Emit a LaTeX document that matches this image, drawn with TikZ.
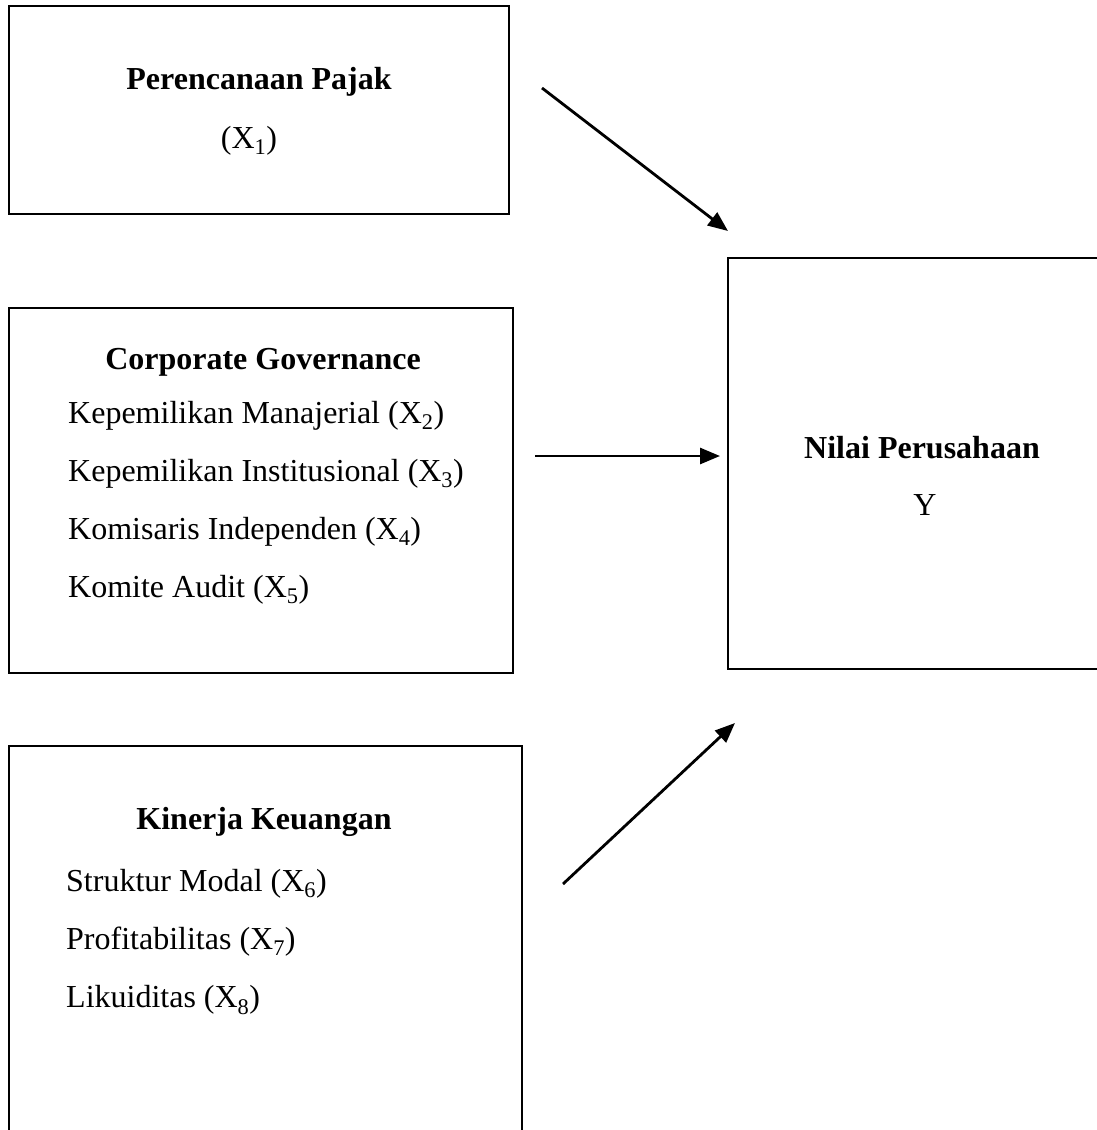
\documentclass[tikz,border=0pt]{standalone}
\usepackage{fontspec}
\setmainfont{Liberation Serif}
\usetikzlibrary{arrows.meta}
\tikzset{
  kotak/.style={draw,line width=2.8pt,minimum width=#1,inner sep=0pt},
  judul/.style={font=\fontsize{32}{38}\selectfont\bfseries},
  isi/.style={font=\fontsize{32}{38}\selectfont,anchor=west,inner sep=0pt},
  panah/.style={line width=2.8pt,-{Triangle[length=20pt,width=16pt]}}
}
\newcommand{\Xs}[1]{X\textsubscript{#1}}
\begin{document}
\begin{tikzpicture}[x=1pt,y=-1pt]
\useasboundingbox (0,0) rectangle (1097,1130);
\clip (0,0) rectangle (1097,1130);
% kotak variabel
\node[kotak=500pt,minimum height=208pt] (pajak) at (259,110) {};
\node[kotak=504pt,minimum height=365pt] (cg) at (261,490.5) {};
\node[kotak=513pt,minimum height=420pt] (kk) at (265.5,956) {};
\node[kotak=400pt,minimum height=411pt] (nilai) at (928,463.5) {};
% teks
\node[judul] (tpajak) at (259,82) {Perencanaan Pajak};
\node[font=\fontsize{32}{38}\selectfont] (xsatu) at (249,141) {(\Xs{1})};
\node[judul] (tcg) at (263,362) {Corporate Governance};
\node[isi] (x2) at (68,416) {Kepemilikan Manajerial (\Xs{2})};
\node[isi] (x3) at (68,474) {Kepemilikan Institusional (\Xs{3})};
\node[isi] (x4) at (68,532) {Komisaris Independen (\Xs{4})};
\node[isi] (x5) at (68,590) {Komite Audit (\Xs{5})};
\node[judul] (tkk) at (264,822) {Kinerja Keuangan};
\node[isi] (x6) at (66,884) {Struktur Modal (\Xs{6})};
\node[isi] (x7) at (66,942) {Profitabilitas (\Xs{7})};
\node[isi] (x8) at (66,1000) {Likuiditas (\Xs{8})};
\node[judul] (tnilai) at (922,448) {Nilai Perusahaan};
\node[font=\fontsize{32}{38}\selectfont] (ty) at (925,505) {Y};
% panah
\coordinate (a1) at (542,88);
\coordinate (b1) at (728,231);
\coordinate (a2) at (535,456);
\coordinate (b2) at (720,456);
\coordinate (a3) at (563,884);
\coordinate (b3) at (735,723);
\draw[panah] (a1) -- (b1);
\draw[panah] (a2) -- (b2);
\draw[panah] (a3) -- (b3);
\end{tikzpicture}
\end{document}
